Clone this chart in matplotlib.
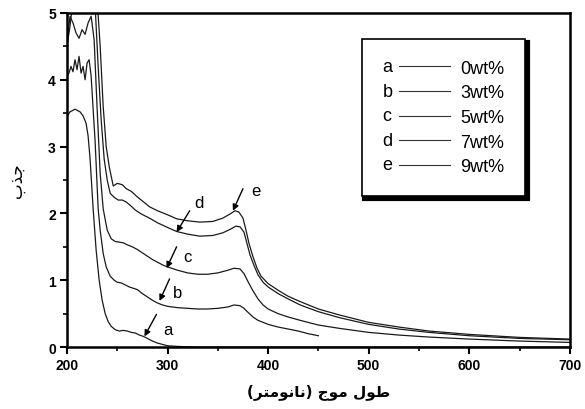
import matplotlib
matplotlib.use('Agg')
import matplotlib.pyplot as plt
from matplotlib.legend_handler import HandlerBase
from matplotlib.lines import Line2D
from matplotlib.text import Text

# curve a : 0wt%
xa = [200, 203, 208, 213, 216, 219, 221, 223, 226, 229, 232, 235, 238, 241, 244, 248, 252, 256,
      260, 264, 268, 272, 276, 280, 285, 290, 295, 300, 310, 330, 400, 500, 600, 700]
ya = [3.45, 3.52, 3.56, 3.52, 3.46, 3.35, 3.16, 2.81, 2.07, 1.45, 1.0, 0.7, 0.5, 0.38, 0.31, 0.26, 0.24, 0.25,
      0.24, 0.22, 0.21, 0.18, 0.16, 0.13, 0.09, 0.06, 0.04, 0.02, 0.01, 0.0, 0.0, 0.0, 0.0, 0.0]

# curve b : 3wt%
xb = [200, 202, 204, 206, 208, 210, 212, 214, 216, 218, 220, 222, 224, 226, 228, 231, 233, 236, 239, 243,
      247, 250, 254, 258, 262, 266, 270, 275, 280, 285, 290, 295, 300, 310, 320, 330, 340, 350, 360, 366,
      372, 376, 380, 385, 390, 400, 410, 420, 430, 440, 450]
yb = [4.05, 4.1, 4.2, 4.12, 4.3, 4.15, 4.35, 4.1, 4.2, 4.0, 4.25, 4.3, 4.06, 3.56, 3.07, 2.07, 1.75, 1.4, 1.2, 1.06,
      1.0, 0.97, 0.96, 0.93, 0.9, 0.88, 0.86, 0.8, 0.75, 0.7, 0.66, 0.63, 0.61, 0.59, 0.58, 0.57, 0.57, 0.58, 0.6, 0.63,
      0.62, 0.58, 0.52, 0.45, 0.4, 0.34, 0.3, 0.27, 0.24, 0.2, 0.17]

# curve c : 5wt%
xc = [200, 203, 206, 209, 212, 215, 218, 221, 224, 227, 230, 233, 236, 240, 244, 248, 252, 256, 260, 265,
      270, 275, 280, 285, 290, 295, 300, 310, 320, 330, 340, 350, 360, 366, 372, 376, 380, 385, 390, 395,
      400, 410, 420, 432, 450, 471, 500, 530, 560, 600, 650, 700]
yc = [4.55, 4.95, 4.85, 4.7, 4.62, 4.75, 4.68, 4.85, 4.95, 4.6, 3.56, 2.6, 2.07, 1.75, 1.62, 1.58, 1.57, 1.56, 1.53, 1.5,
      1.46, 1.41, 1.36, 1.31, 1.27, 1.23, 1.2, 1.15, 1.11, 1.09, 1.09, 1.11, 1.15, 1.18, 1.17, 1.1, 0.98, 0.84, 0.72, 0.63,
      0.57, 0.5, 0.45, 0.4, 0.33, 0.28, 0.22, 0.18, 0.15, 0.12, 0.09, 0.07]

# curve d : 7wt%
xd = [200, 203, 206, 210, 220, 228, 231, 234, 237, 240, 243, 247, 251, 255, 259, 263, 268, 273, 278, 282,
      290, 300, 309, 320, 332, 345, 355, 362, 368, 372, 376, 379, 382, 386, 390, 395, 400, 410, 420, 432,
      450, 471, 500, 530, 560, 600, 650, 700]
yd = [4.5, 4.8, 5.2, 5.2, 5.2, 5.1, 4.2, 3.4, 2.81, 2.5, 2.3, 2.24, 2.2, 2.2, 2.17, 2.12, 2.05, 2.0, 1.96, 1.93,
      1.86, 1.79, 1.73, 1.69, 1.66, 1.67, 1.71, 1.76, 1.81, 1.8, 1.72, 1.55, 1.38, 1.22, 1.08, 0.97, 0.9, 0.8, 0.72, 0.63,
      0.53, 0.44, 0.34, 0.27, 0.22, 0.17, 0.13, 0.11]

# curve e : 9wt%
xe = [200, 210, 220, 230, 233, 236, 239, 242, 246, 250, 255, 259, 264, 269, 273, 278, 282, 290, 300, 309,
      320, 332, 345, 355, 362, 367, 371, 375, 378, 381, 385, 389, 393, 400, 410, 420, 432, 450, 471, 500,
      530, 560, 600, 650, 700]
ye = [5.2, 5.2, 5.2, 5.2, 4.5, 3.6, 3.0, 2.7, 2.41, 2.45, 2.43, 2.37, 2.33, 2.26, 2.21, 2.15, 2.1, 2.04, 1.98, 1.92,
      1.89, 1.87, 1.88, 1.93, 1.99, 2.04, 2.02, 1.93, 1.75, 1.55, 1.35, 1.18, 1.06, 0.95, 0.85, 0.76, 0.68, 0.57, 0.48, 0.37,
      0.3, 0.24, 0.19, 0.145, 0.12]

letters = ['a', 'b', 'c', 'd', 'e']
labels = ['0wt%', '3wt%', '5wt%', '7wt%', '9wt%']
xs = [xa, xb, xc, xd, xe]
ys = [ya, yb, yc, yd, ye]

# arrow tips / tails / letter positions (data coords)
tips = [(277, 0.16), (292, 0.69), (299, 1.18), (309, 1.72), (365, 2.04)]
tails = [(289, 0.49), (302, 1.02), (309, 1.5), (322, 2.04), (375, 2.37)]
letter_pos = [(300, 0.27), (310, 0.82), (320, 1.36), (331, 2.17), (388, 2.34)]

# Persian labels, shaped by hand (presentation forms, visual order)
xlabel = '(\uFEAE\uFE98\uFEE3\uFEEE\uFEE7\uFE8E\uFEE7) \uFE9D\uFEEE\uFEE3 \uFEDD\uFEEE\uFEC3'
ylabel = '\uFE8F\uFEAC\uFE9F'


class LetterHandle:
    def __init__(self, letter):
        self.letter = letter


class LetterLineHandler(HandlerBase):
    def create_artists(self, legend, orig_handle, xdescent, ydescent, width, height, fontsize, trans):
        y = height / 2 - ydescent
        t = Text(-xdescent, y, orig_handle.letter, va='center', ha='left',
                 fontsize=fontsize, family='Liberation Sans', transform=trans)
        l = Line2D([-xdescent + 0.24 * width, -xdescent + width], [y, y],
                   color='#333333', lw=0.8, transform=trans)
        return [t, l]


fig = plt.figure(figsize=(5.85, 4.10), dpi=100)
ax = fig.add_axes([0.1145, 0.151, 0.8595, 0.815])

for x, y in zip(xs, ys):
    ax.plot(x, y, color='#1a1a1a', lw=0.9)

for tip, tail, lp, let in zip(tips, tails, letter_pos, letters):
    ax.annotate('', xy=tip, xytext=tail,
                arrowprops=dict(arrowstyle='-|>', color='black', lw=1.0,
                                mutation_scale=9, shrinkA=0, shrinkB=0))
    ax.text(lp[0], lp[1], let, fontsize=12, family='Liberation Sans',
            ha='center', va='center')

ax.set_xlim(200, 700)
ax.set_ylim(0, 5)
ax.set_xticks([200, 300, 400, 500, 600, 700])
ax.set_xticks([250, 350, 450, 550, 650], minor=True)
ax.set_yticks([0, 1, 2, 3, 4, 5])
ax.set_yticks([0.5, 1.5, 2.5, 3.5, 4.5], minor=True)
ax.tick_params(which='major', direction='out', length=5, width=1.5, labelsize=10, pad=3)
ax.tick_params(which='minor', direction='out', length=3, width=1.2)
for lab in ax.get_xticklabels() + ax.get_yticklabels():
    lab.set_family('Liberation Sans')
    lab.set_fontweight('bold')
for s in ax.spines.values():
    s.set_linewidth(1.8)

ax.set_xlabel(xlabel, family='DejaVu Sans', fontsize=11, fontweight='bold', labelpad=8)
ax.set_ylabel(ylabel, family='DejaVu Sans', fontsize=12, labelpad=16)

handles = [LetterHandle(l) for l in letters]
leg = ax.legend(handles, labels, handler_map={LetterHandle: LetterLineHandler()},
                loc='upper left', bbox_to_anchor=(0.586, 0.922), borderaxespad=0,
                frameon=True, fancybox=False,
                shadow={'color': 'black', 'alpha': 1.0, 'linewidth': 3},
                edgecolor='black',
                prop={'family': 'Liberation Sans', 'size': 13},
                handlelength=3.75, handletextpad=0.55, labelspacing=0.42,
                borderpad=1.15, framealpha=1)
leg.get_frame().set_linewidth(1.2)

fig.savefig('out.png', dpi=100)
